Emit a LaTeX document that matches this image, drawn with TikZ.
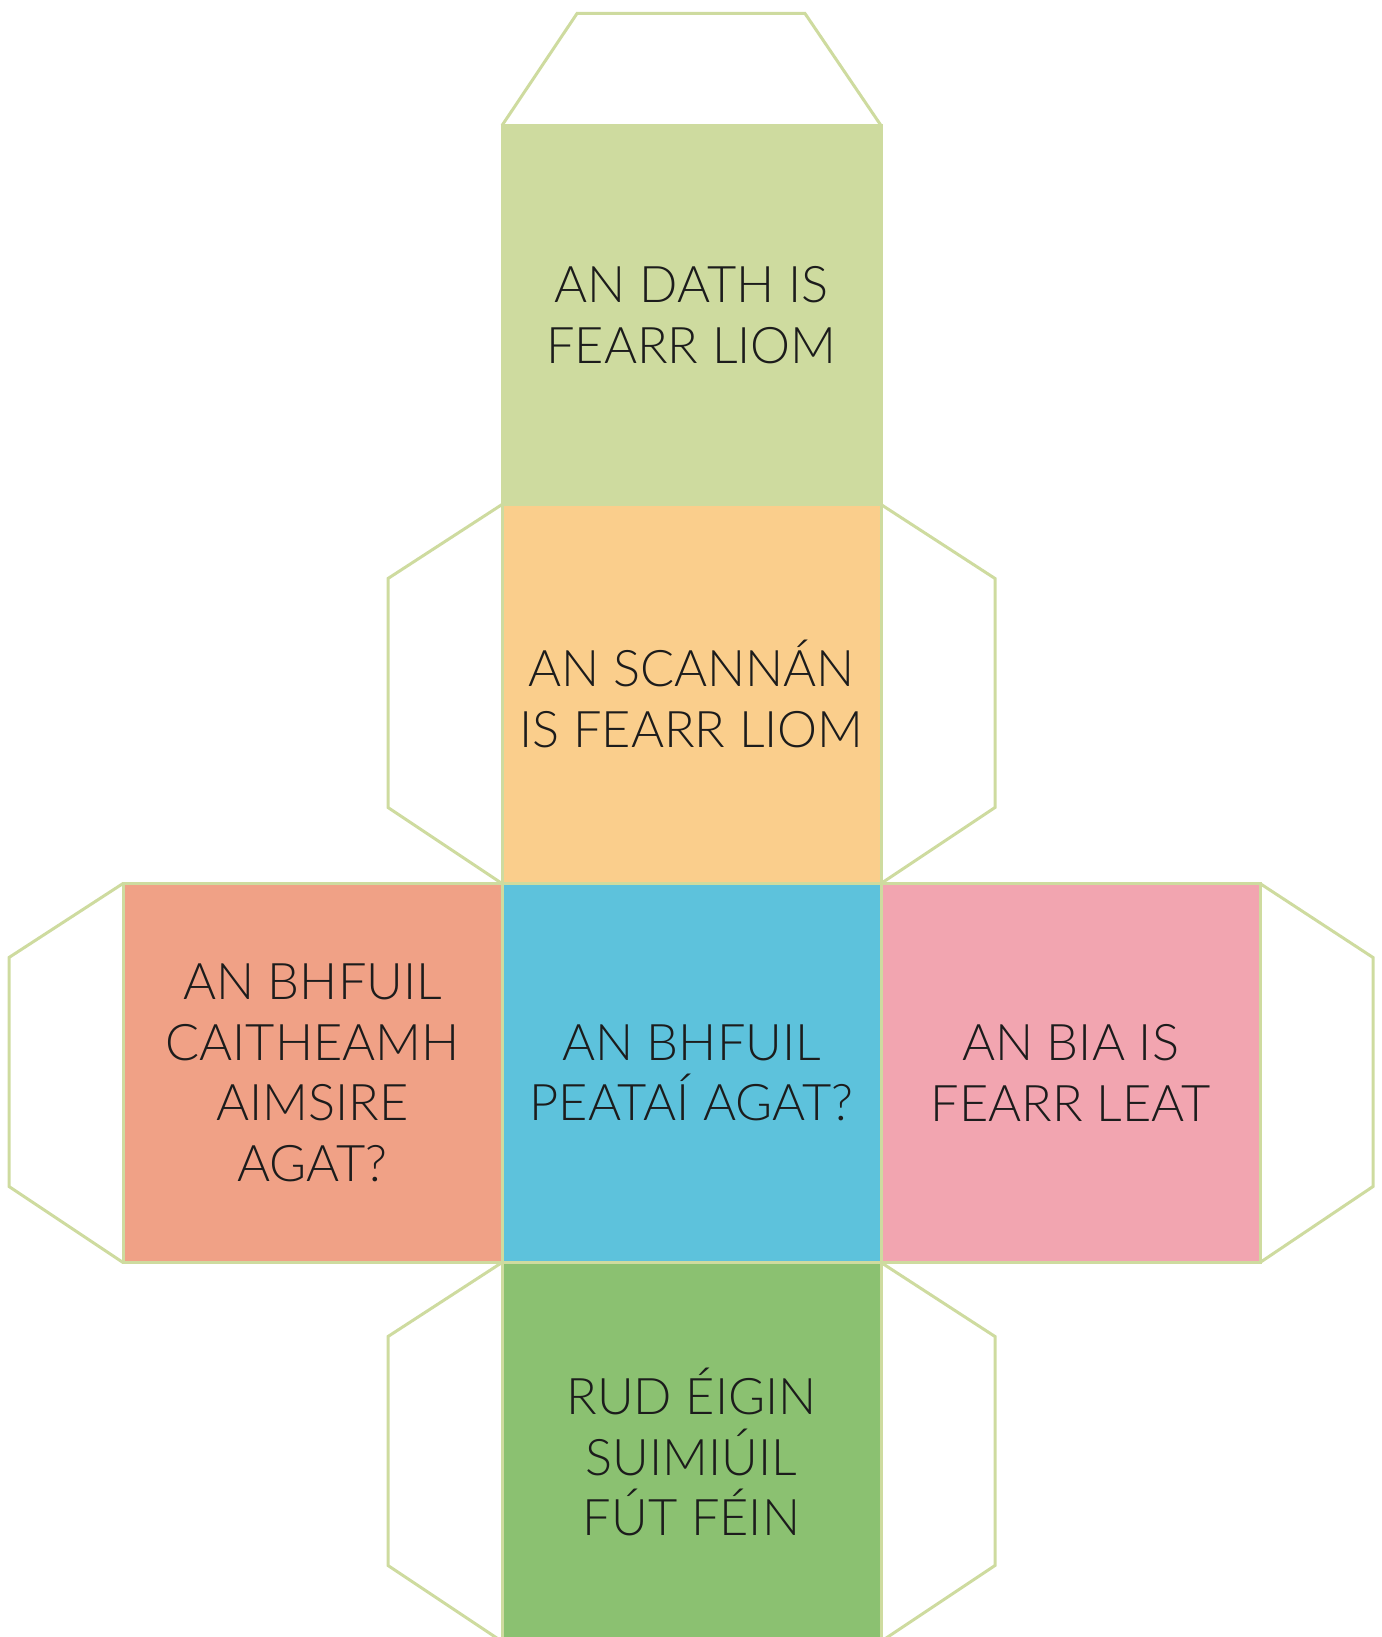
\documentclass[tikz,border=0pt]{standalone}
\usepackage{fontspec}
\setmainfont{Lato}[UprightFont=* Light]
\usetikzlibrary{positioning}
\definecolor{edgegreen}{HTML}{CEDB9F}
\definecolor{textdark}{HTML}{1C1C1C}
\definecolor{colourgreen}{HTML}{CEDB9F}
\definecolor{filmorange}{HTML}{FACE8C}
\definecolor{hobbysalmon}{HTML}{F0A186}
\definecolor{petblue}{HTML}{5DC2DC}
\definecolor{foodpink}{HTML}{F2A5B0}
\definecolor{factgreen}{HTML}{8BC171}
\tikzset{
    %Define style for the faces of the cube
    face/.style={
           rectangle,
           draw=edgegreen,
           line width=3pt,
           minimum size=379pt,
           inner sep=0pt,
           outer sep=0pt,
           align=center,
           text=textdark,
           font=\fontsize{50.5}{60.5}\selectfont},
    % Define style for the glue flaps
    flap/.style={
           draw=edgegreen,
           line width=3pt,
           line join=miter}
}

\begin{document}
\begin{tikzpicture}[x=1pt, y=-1pt, node distance=379pt]
    \useasboundingbox (0,0) rectangle (1381,1637);
    \node [face, fill=petblue] (pet) at (691.5,1073) {AN BHFUIL\\PEATAÍ AGAT?};
    \node [face, fill=filmorange, above of=pet] (film) {AN SCANNÁN\\IS FEARR LIOM};
    \node [face, fill=colourgreen, above of=film] (colour) {AN DATH IS\\FEARR LIOM};
    \node [face, fill=hobbysalmon, left of=pet] (hobby) {AN BHFUIL\\CAITHEAMH\\AIMSIRE\\AGAT?};
    \node [face, fill=foodpink, right of=pet] (food) {AN BIA IS\\FEARR LEAT};
    \node [face, fill=factgreen, below of=pet] (fact) {RUD ÉIGIN\\SUIMIÚIL\\FÚT FÉIN};

    % flaps
    \draw[flap] (colour.north west) -- ++(75,-112) -- ++(228,0) -- (colour.north east);
    \draw[flap] (film.north west) -- ++(-114,74) -- ++(0,229) -- (film.south west);
    \draw[flap] (film.north east) -- ++(114,74) -- ++(0,229) -- (film.south east);
    \draw[flap] (hobby.north west) -- ++(-114,74) -- ++(0,229) -- (hobby.south west);
    \draw[flap] (food.north east) -- ++(113,74) -- ++(0,229) -- (food.south east);
    \draw[flap] (fact.north west) -- ++(-114,74) -- ++(0,229) -- (fact.south west);
    \draw[flap] (fact.north east) -- ++(114,74) -- ++(0,229) -- (fact.south east);
\end{tikzpicture}
\end{document}
